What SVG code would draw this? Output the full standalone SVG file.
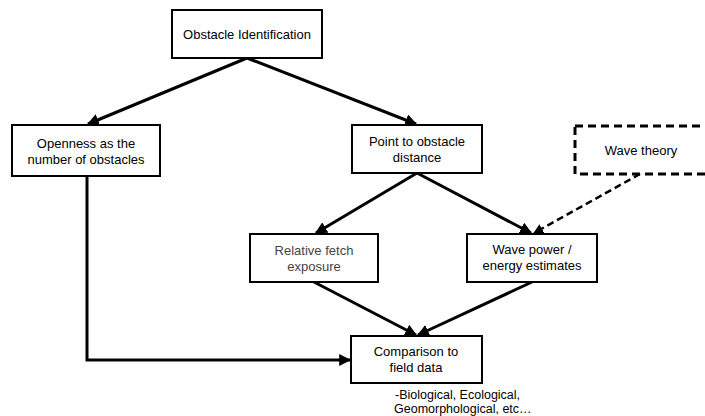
<svg xmlns="http://www.w3.org/2000/svg" width="705" height="416" viewBox="0 0 705 416">
<defs>
<marker id="ah" viewBox="0 0 10 10" refX="9" refY="5" markerWidth="4" markerHeight="4" orient="auto" markerUnits="strokeWidth">
<path d="M0,0 L10,5 L0,10 z" fill="#000"/>
</marker>
<style>
.box{fill:#fff;stroke:#000;stroke-width:2}
.dash{fill:#fff;stroke:#000;stroke-width:3;stroke-dasharray:8,5}
.t{font-family:"Liberation Sans",Arial,sans-serif;font-size:13px;fill:#000;text-anchor:middle}
.lt{fill:#444}
.c{fill:none;stroke:#000;stroke-width:3;marker-end:url(#ah)}
.cd{fill:none;stroke:#000;stroke-width:2.5;stroke-dasharray:7,4;marker-end:url(#ah)}
.note{font-family:"Liberation Sans",Arial,sans-serif;font-size:12.5px;fill:#000}
</style>
</defs>
<rect width="705" height="416" fill="#fff"/>
<g id="connectors">
<path class="c" d="M247,58 L88,124"/>
<path class="c" d="M247,58 L416,124"/>
<path class="c" d="M87,176 L87,360 L350,360"/>
<path class="c" d="M417,173 L316,233"/>
<path class="c" d="M417,173 L531,233"/>
<path class="cd" d="M640,174 L534,233"/>
<path class="c" d="M314,282 L416,335"/>
<path class="c" d="M532,282 L418,335"/>
</g>
<g id="n_obstacle">
<rect class="box" x="172" y="10" width="150" height="48"/>
<text class="t" x="247" y="39">Obstacle Identification</text>
</g>
<g id="n_openness">
<rect class="box" x="12" y="125" width="148" height="51"/>
<text class="t" x="86" y="148">Openness as the</text>
<text class="t" x="86" y="164">number of obstacles</text>
</g>
<g id="n_point">
<rect class="box" x="352" y="125" width="130" height="48"/>
<text class="t" x="417" y="146">Point to obstacle</text>
<text class="t" x="417" y="162">distance</text>
</g>
<g id="n_wavetheory">
<rect class="dash" x="575" y="126" width="132" height="48"/>
<text class="t" x="641" y="155">Wave theory</text>
</g>
<g id="n_fetch">
<rect class="box" x="250" y="234" width="128" height="48"/>
<text class="t lt" x="314" y="255">Relative fetch</text>
<text class="t lt" x="314" y="271">exposure</text>
</g>
<g id="n_wavepower">
<rect class="box" x="467" y="234" width="130" height="48"/>
<text class="t" x="532" y="254">Wave power /</text>
<text class="t" x="532" y="270">energy estimates</text>
</g>
<g id="n_comparison">
<rect class="box" x="351" y="336" width="131" height="47"/>
<text class="t" x="416" y="356">Comparison to</text>
<text class="t" x="416" y="372">field data</text>
</g>
<g id="note">
<text class="note" x="395" y="399">-Biological,  Ecological,</text>
<text class="note" x="394" y="412.5">Geomorphological, etc…</text>
</g>
</svg>
